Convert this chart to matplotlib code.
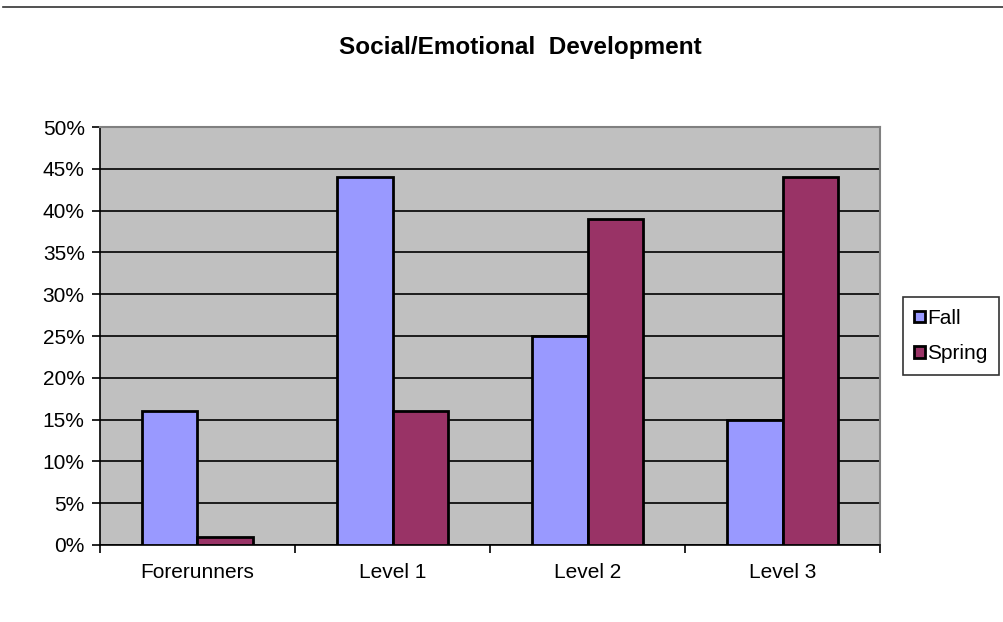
import matplotlib.pyplot as plt
import numpy as np
from matplotlib.ticker import FuncFormatter

categories = ['Forerunners', 'Level 1', 'Level 2', 'Level 3']
fall = [16, 44, 25, 15]
spring = [1, 16, 39, 44]

plt.rcParams['font.family'] = ['Liberation Sans', 'DejaVu Sans']

fig = plt.figure(figsize=(10.04, 6.22), dpi=100)
ax = fig.add_axes([0.0996, 0.1238, 0.7769, 0.672])
ax.set_facecolor('#C0C0C0')

x = np.arange(len(categories))
w = 0.285
ax.bar(x - w / 2, fall, w, color='#9999FF', edgecolor='black', linewidth=2, label='Fall', zorder=3)
ax.bar(x + w / 2, spring, w, color='#993366', edgecolor='black', linewidth=2, label='Spring', zorder=3)

ax.set_xlim(-0.5, 3.5)
ax.set_ylim(0, 50)
ax.set_yticks(range(0, 51, 5))
ax.yaxis.set_major_formatter(FuncFormatter(lambda v, p: '%d%%' % v))
ax.yaxis.grid(True, color='black', linewidth=1.2, zorder=1)
ax.set_axisbelow(True)

# category ticks at boundaries, labels centered
ax.set_xticks(np.arange(-0.5, 4, 1))
ax.set_xticklabels([])
ax.set_xticks(x, minor=True)
ax.set_xticklabels(categories, minor=True)
ax.tick_params(axis='x', which='minor', length=0, pad=13, labelsize=15)
ax.tick_params(axis='x', which='major', length=6, width=1.2, direction='out')
ax.tick_params(axis='y', length=6, width=1.2, direction='out', labelsize=15, pad=5)

for s in ['top', 'right']:
    ax.spines[s].set_color('#808080')
    ax.spines[s].set_linewidth(1.5)
for s in ['left', 'bottom']:
    ax.spines[s].set_color('black')
    ax.spines[s].set_linewidth(1.2)

fig.text(0.518, 0.924, 'Social/Emotional  Development', ha='center', va='center',
         fontsize=17.5, fontweight='bold')

leg = ax.legend(loc='center left', bbox_to_anchor=(1.0295, 0.5), frameon=True, fancybox=False,
                edgecolor='black', fontsize=15, handlelength=0.5, handleheight=0.5,
                handletextpad=0.1, labelspacing=0.78, borderpad=0.55, borderaxespad=0)
leg.get_frame().set_linewidth(1.2)

# thin line across the top of the picture
fig.add_artist(plt.Line2D([0.003, 1.0], [0.989, 0.989], color='#333333', linewidth=1.2))

fig.savefig('out.png', dpi=100)
